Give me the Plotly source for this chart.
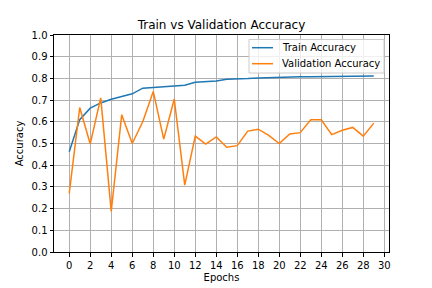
import plotly.graph_objects as go

epochs = list(range(30))
train_acc = [0.462, 0.61, 0.663, 0.687, 0.704, 0.718, 0.729, 0.755, 0.758, 0.762,
             0.765, 0.768, 0.782, 0.785, 0.788, 0.796, 0.796, 0.799, 0.802, 0.804,
             0.805, 0.807, 0.808, 0.808, 0.809, 0.809, 0.810, 0.811, 0.811, 0.811]
val_acc = [0.27, 0.666, 0.498, 0.71, 0.187, 0.633, 0.50, 0.60, 0.74, 0.52,
           0.705, 0.308, 0.534, 0.497, 0.53, 0.483, 0.49, 0.557, 0.566, 0.537,
           0.50, 0.544, 0.55, 0.609, 0.609, 0.541, 0.561, 0.574, 0.534, 0.594]
series_names = ["Train Accuracy", "Validation Accuracy"]
series_colors = ["#1f77b4", "#ff7f0e"]
x_ticks = list(range(0, 31, 2))
y_ticks = [round(i * 0.1, 1) for i in range(11)]

font = "DejaVu Sans"
W, H = 432, 288
L, R, T, B = 54, 43, 35, 36
PW, PH = W - L - R, H - T - B


def px_x(p):  # page pixel -> paper (plot-area) fraction
    return (p - L) / PW


def px_y(p):
    return (H - B - p) / PH


fig = go.Figure()
for name, ys, col in zip(series_names, [train_acc, val_acc], series_colors):
    fig.add_trace(go.Scatter(x=epochs, y=ys, mode="lines", name=name,
                             line=dict(color=col, width=1.5), showlegend=False))

axis_common = dict(showline=True, linecolor="black", linewidth=1, mirror=True,
                   showgrid=True, gridcolor="#b0b0b0", gridwidth=0.8,
                   ticks="outside", ticklen=3.5, tickcolor="black", tickwidth=0.8,
                   zeroline=False, automargin=False,
                   tickfont=dict(family=font, size=10, color="black"))

# legend drawn as layout decoration (box, line samples, labels)
shapes = [dict(type="rect", xref="paper", yref="paper",
               x0=px_x(249), x1=px_x(384), y0=px_y(73), y1=px_y(39.5),
               line=dict(color="#cccccc", width=1), fillcolor="rgba(255,255,255,0.8)",
               layer="above")]
annotations = []
row_y = [47.7, 63.7]
for name, col, ry in zip(series_names, series_colors, row_y):
    shapes.append(dict(type="line", xref="paper", yref="paper",
                       x0=px_x(252), x1=px_x(273), y0=px_y(ry), y1=px_y(ry),
                       line=dict(color=col, width=1.5), layer="above"))
    annotations.append(dict(text=name, xref="paper", yref="paper",
                            x=px_x(280), y=px_y(ry), xanchor="left", yanchor="middle",
                            showarrow=False, font=dict(family=font, size=10, color="black")))

fig.update_layout(
    width=W, height=H,
    margin=dict(l=L, r=R, t=T, b=B, autoexpand=False),
    paper_bgcolor="white", plot_bgcolor="white",
    title=dict(text="Train vs Validation Accuracy", x=(L + W - R) / 2 / W, xanchor="center",
               y=1 - 25 / H, yanchor="middle", automargin=False,
               font=dict(family=font, size=12, color="black")),
    xaxis=dict(range=[-1.45, 30.45], tickvals=x_ticks,
               title=dict(text="Epochs", font=dict(family=font, size=10, color="black"), standoff=4),
               **axis_common),
    yaxis=dict(range=[0, 1], tickvals=y_ticks, tickformat=".1f",
               title=dict(text="Accuracy", font=dict(family=font, size=10, color="black"), standoff=6),
               **axis_common),
    shapes=shapes,
    annotations=annotations,
    showlegend=False,
)

fig.write_html("out.html", config={"displayModeBar": False},
               post_script="document.body.style.margin='0';document.body.style.padding='0';")
